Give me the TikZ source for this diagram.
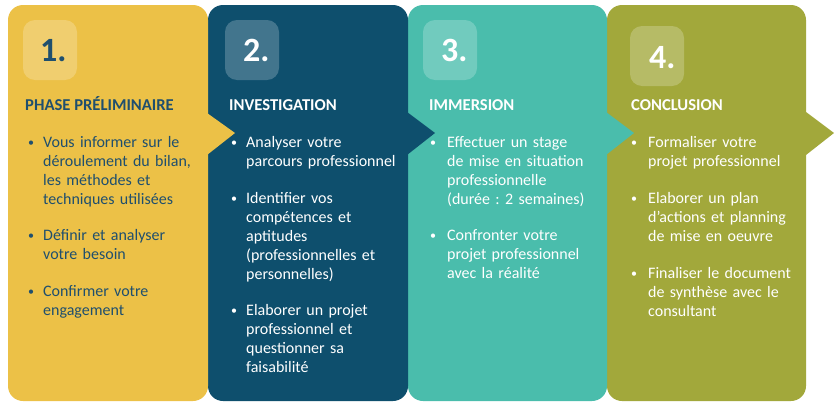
\documentclass[tikz,border=0pt]{standalone}
\usepackage{fontspec}
\setmainfont{Carlito}
\frenchspacing
\definecolor{cyel}{HTML}{ECC147}
\definecolor{cblue}{HTML}{0E4F6D}
\definecolor{cteal}{HTML}{4ABDAC}
\definecolor{colive}{HTML}{A2A83B}
\definecolor{ctxt}{HTML}{1F4F6E}
\begin{document}
\begin{tikzpicture}[x=1pt,y=-1pt,
  numbox/.style={fill=white,fill opacity=0.22,rounded corners=12pt},
  numtxt/.style={anchor=base west,inner sep=0pt,font=\fontsize{34}{36}\selectfont\bfseries},
  headtxt/.style={anchor=base west,inner sep=0pt,font=\fontsize{16.6}{19}\selectfont\bfseries},
  body/.style={anchor=base west,inner sep=0pt,text width=175pt,align=left,font=\fontsize{16}{19}\selectfont},
  bul/.style={anchor=base west,inner sep=0pt,font=\fontsize{12}{19}\selectfont}]
\useasboundingbox (0,0) rectangle (838,415);
% panels (drawn from right to left so each arrow lies on the next panel)
\fill[colive,rounded corners=15pt] (607,5) rectangle (806,401);
\fill[colive] (806,112) -- (834,133) -- (806,155) -- cycle;
\fill[cteal,rounded corners=15pt] (408,5) rectangle (607,401);
\fill[cteal] (606,112) -- (634,133) -- (606,155) -- cycle;
\fill[cblue,rounded corners=15pt] (208,5) rectangle (408,401);
\fill[cblue] (407,112) -- (435,133) -- (407,155) -- cycle;
\fill[cyel,rounded corners=15pt] (8,5) rectangle (208,401);
\fill[cyel] (207,113) -- (235,133) -- (207,155) -- cycle;
% number boxes
\fill[numbox] (23,20) rectangle (77,80);
\fill[numbox] (225,20) rectangle (279,80);
\fill[numbox] (423,20) rectangle (477,80);
\fill[numbox] (630,26) rectangle (684,86);
\node[numtxt,text=ctxt] (n1) at (40,61) {1.};
\node[numtxt,text=white] (n2) at (243,61) {2.};
\node[numtxt,text=white] (n3) at (441,61) {3.};
\node[numtxt,text=white] (n4) at (649,68) {4.};
% headings
\node[headtxt,text=ctxt] (h1) at (25,110) {PHASE PRÉLIMINAIRE};
\node[headtxt,text=white] (h2) at (229,110) {INVESTIGATION};
\node[headtxt,text=white] (h3) at (429,110) {IMMERSION};
\node[headtxt,text=white] (h4) at (631,110) {CONCLUSION};
% panel 1
\begin{scope}[every node/.append style={text=ctxt}]
\node[bul] (b1a) at (28,146) {•};
\node[body] (t1a) at (43,147) {Vous informer sur le\\déroulement du bilan,\\les méthodes et\\techniques utilisées};
\node[bul] (b1b) at (28,239) {•};
\node[body] (t1b) at (43,240) {Définir et analyser\\votre besoin};
\node[bul] (b1c) at (28,295) {•};
\node[body] (t1c) at (43,296) {Confirmer votre\\engagement};
\end{scope}
\begin{scope}[every node/.append style={text=white}]
% panel 2
\node[bul] (b2a) at (231,146) {•};
\node[body] (t2a) at (246,147) {Analyser votre\\parcours professionnel};
\node[bul] (b2b) at (231,202) {•};
\node[body] (t2b) at (246,203) {Identifier vos\\compétences et\\aptitudes\\(professionnelles et\\personnelles)};
\node[bul] (b2c) at (231,314) {•};
\node[body] (t2c) at (246,315) {Elaborer un projet\\professionnel et\\questionner sa\\faisabilité};
% panel 3
\node[bul] (b3a) at (430,146) {•};
\node[body] (t3a) at (447,147) {Effectuer un stage\\de mise en situation\\professionnelle\\(durée : 2 semaines)};
\node[bul] (b3b) at (430,239) {•};
\node[body] (t3b) at (447,240) {Confronter votre\\projet professionnel\\avec la réalité};
% panel 4
\node[bul] (b4a) at (631,146) {•};
\node[body] (t4a) at (648,147) {Formaliser votre\\projet professionnel};
\node[bul] (b4b) at (631,202) {•};
\node[body] (t4b) at (648,203) {Elaborer un plan\\d’actions et planning\\de mise en oeuvre};
\node[bul] (b4c) at (631,277) {•};
\node[body] (t4c) at (648,278) {Finaliser le document\\de synthèse avec le\\consultant};
\end{scope}
\end{tikzpicture}
\end{document}
